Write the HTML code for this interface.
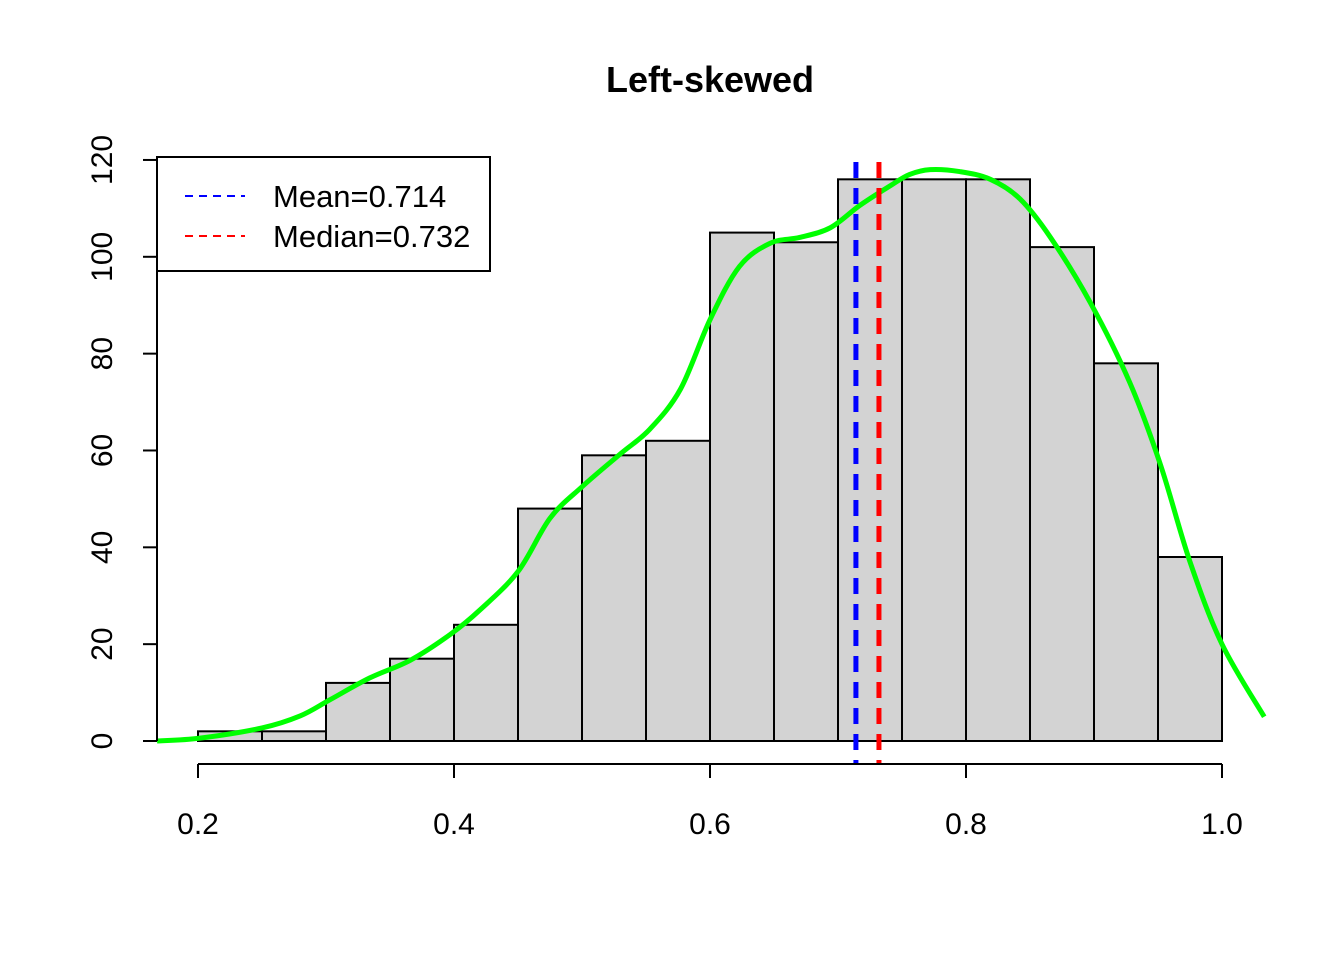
<!DOCTYPE html>
<html><head><meta charset="utf-8"><style>body{margin:0;background:#fff}svg{display:block}text{font-family:"Liberation Sans",Arial,sans-serif}</style></head>
<body>
<svg width="1344" height="960" xmlns="http://www.w3.org/2000/svg" id="c">
<text x="710" y="92" font-size="36" font-weight="bold" text-anchor="middle">Left-skewed</text>
</svg>
<script>
const binStarts=[0.2,0.25,0.3,0.35,0.4,0.45,0.5,0.55,0.6,0.65,0.7,0.75,0.8,0.85,0.9,0.95];
const counts=[2,2,12,17,24,48,59,62,105,103,116,116,116,102,78,38];
const binWidth=0.05;
const xTicks=[0.2,0.4,0.6,0.8,1.0];
const xTickLabels=["0.2","0.4","0.6","0.8","1.0"];
const yTicks=[0,20,40,60,80,100,120];
const densX=[0.168,0.2016,0.25,0.28,0.303,0.334,0.366,0.397,0.42,0.45,0.475,0.5,0.53,0.553,0.577,0.6,0.623,0.647,0.67,0.694,0.717,0.741,0.756,0.772,0.795,0.819,0.842,0.866,0.897,0.928,0.952,0.975,1.0,1.033];
const densY=[0,0.6,2.7,5.2,8.5,13,16.7,22,27,35,46,52.5,59.3,64.4,72.7,87,98,102.8,104,106,110.6,114.7,117,118,117.6,116,112,104,90.6,74,57,37,20,5];
const meanVal=0.714, medianVal=0.732;
const svg=document.getElementById('c');const NS='http://www.w3.org/2000/svg';
const X=v=>198+(v-0.2)*1280;const Y=v=>741-v*4.842;
function mk(t,a,p){const e=document.createElementNS(NS,t);for(const k in a)e.setAttribute(k,a[k]);(p||svg).appendChild(e);return e;}
binStarts.forEach((b,i)=>{const r=mk('rect',{x:X(b),y:Y(counts[i]),width:X(b+binWidth)-X(b),height:Y(0)-Y(counts[i]),fill:'#d3d3d3',stroke:'#000','stroke-width':2});

});
const P=densX.map((x,i)=>[X(x),Y(densY[i])]);
let d='M'+P[0][0]+' '+P[0][1];
for(let i=0;i<P.length-1;i++){const p0=P[Math.max(0,i-1)],p1=P[i],p2=P[i+1],p3=P[Math.min(P.length-1,i+2)];
d+=`C${p1[0]+(p2[0]-p0[0])/6} ${p1[1]+(p2[1]-p0[1])/6} ${p2[0]-(p3[0]-p1[0])/6} ${p2[1]-(p3[1]-p1[1])/6} ${p2[0]} ${p2[1]}`;}
const dl=mk('path',{d:d,fill:'none',stroke:'#00ff00','stroke-width':5,'stroke-linejoin':'round'});


const ml=mk('line',{x1:X(meanVal),x2:X(meanVal),y1:162,y2:764,stroke:'#0000ff','stroke-width':5,'stroke-dasharray':'16 10'});


const dl2=mk('line',{x1:X(medianVal),x2:X(medianVal),y1:162,y2:764,stroke:'#ff0000','stroke-width':5,'stroke-dasharray':'16 10'});


const xa=mk('line',{x1:X(xTicks[0]),x2:X(xTicks[xTicks.length-1]),y1:764,y2:764,stroke:'#000','stroke-width':2});


xTicks.forEach((t,i)=>{mk('line',{x1:X(t),x2:X(t),y1:764,y2:778,stroke:'#000','stroke-width':2});
const tx=mk('text',{x:X(t),y:834,'font-size':30,'text-anchor':'middle'});tx.textContent=xTickLabels[i];

});
const ya=mk('line',{x1:157,x2:157,y1:Y(yTicks[0]),y2:Y(yTicks[yTicks.length-1]),stroke:'#000','stroke-width':2});


yTicks.forEach(t=>{mk('line',{x1:143,x2:157,y1:Y(t),y2:Y(t),stroke:'#000','stroke-width':2});
const tx=mk('text',{x:112,y:Y(t),'font-size':30,'text-anchor':'middle',transform:`rotate(-90 112 ${Y(t)})`});tx.textContent=t;

});
const lg=mk('g',{});


mk('rect',{x:157,y:157,width:333,height:114,fill:'#fff',stroke:'#000','stroke-width':2},lg);
[['#0000ff','Mean=0.714',196],['#ff0000','Median=0.732',236]].forEach(([c,l,y])=>{
mk('line',{x1:185,x2:245,y1:y,y2:y,stroke:c,'stroke-width':2,'stroke-dasharray':'8 6'},lg);
const tx=mk('text',{x:273,y:y+11,'font-size':31},lg);tx.textContent=l;

});
</script>
</body></html>
